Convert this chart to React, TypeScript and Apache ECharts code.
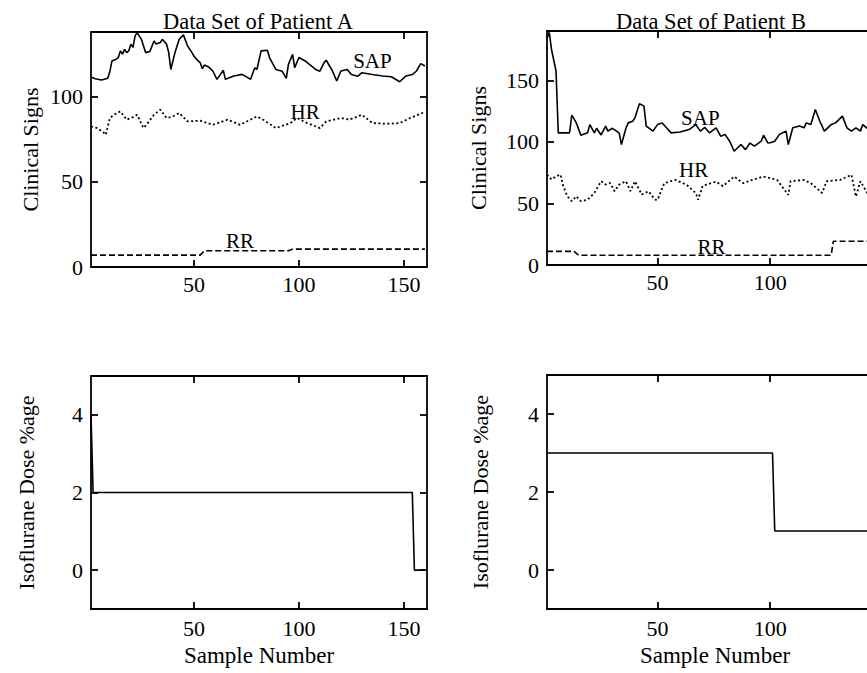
import React, { useEffect, useRef } from "react";
import * as echarts from "echarts";

// ---- tick values ----
const sampleTicks = [50, 100, 150];
const sampleLabelsA = [50, 100, 150];
const sampleLabelsB = [50, 100]; // 150 lies beyond the visible page for patient B
const signTicksA = [0, 50, 100];
const signTicksB = [0, 50, 100, 150];
const doseTicks = [0, 2, 4];

// ---- Patient A clinical signs [sample, value] ----
const sapA = [
  [1, 111.6], [3, 110.5], [6, 109.8], [9, 110.8], [10, 115], [11, 121], [13, 122], [14, 123],
  [15, 126.9], [16, 125], [17, 127.8], [18, 125.9], [19, 127], [20, 130.8], [21, 129], [22, 135.7],
  [23, 137.6], [25, 133.7], [27, 125.9], [29, 126.5], [31, 132.7], [32, 131], [34, 131.8], [35, 133.7],
  [37, 130.8], [38, 126], [39, 116], [41, 125.9], [43, 133.7], [45, 136.3], [47, 129.8], [49, 126],
  [50, 123.9], [52, 121], [53, 120], [54, 116.5], [55, 118.6], [57, 117.5], [59, 115.1], [61, 110.2],
  [64, 115.5], [65, 110.2], [69, 112.2], [73, 113.1], [77, 110.2], [79, 117], [80, 116], [82, 126.9],
  [85, 127.3], [86, 123], [89, 116], [92, 115], [94, 110.8], [95, 119], [97, 124.9], [98, 117],
  [100, 123], [103, 121], [105, 119], [108, 116], [110, 115], [112, 120], [113, 121.4], [116, 115.1],
  [118, 109.2], [120, 115.1], [123, 116], [125, 113.1], [128, 112], [130, 114.1], [135, 113],
  [140, 112.2], [144, 111.7], [148, 108.8], [151, 112.2], [154, 113], [156, 115.1], [158, 119.4], [160, 118],
];
const hrA = [
  [1, 82.5], [4, 81.6], [7, 79], [8, 77.6], [10, 87.5], [12, 89.4], [15, 91.4], [18, 86.5], [21, 88],
  [23, 89.4], [26, 81.6], [28, 84.5], [31, 89.4], [34, 92.4], [37, 87.5], [40, 88.4], [43, 90.4],
  [47, 85.5], [53, 85.9], [59, 83.5], [66, 86.5], [72, 83.5], [80, 88.4], [83, 86.5], [89, 81.6],
  [96, 84.5], [99, 87.5], [104, 84.5], [110, 81.6], [113, 85.5], [120, 87.5], [124, 86.5], [130, 89.4],
  [135, 84.5], [142, 84.1], [148, 84.5], [153, 87.5], [160, 91],
];
const rrA = [[1, 7], [53, 7], [55, 9.5], [95, 9.5], [97, 10.5], [160, 10.5]];

// ---- Patient B clinical signs ----
const sapB = [
  [1, 184], [2, 189], [3, 175], [5, 157.5], [6, 107.3], [11, 107.3], [12, 121.7], [14, 115.4],
  [16, 105.4], [19, 107.3], [20, 114], [22, 107.3], [23, 111], [25, 105.6], [27, 112.8], [28, 108.7],
  [30, 111], [33, 107.3], [34, 97.8], [36, 111], [37, 115.4], [39, 116.7], [40, 119.5], [42, 130.9],
  [44, 129], [45, 112.8], [48, 108.7], [50, 114], [52, 115.4], [54, 111.4], [56, 107.3], [60, 108],
  [64, 110], [67, 114], [69, 108.7], [71, 111.7], [73, 107.3], [76, 111.4], [78, 104.6], [80, 105.9],
  [82, 100.5], [84, 92.4], [87, 97.8], [89, 93.7], [91, 99], [93, 96.5], [96, 100.5], [97, 105.4],
  [99, 99], [100, 99.2], [102, 100.5], [104, 105.9], [107, 108.7], [108, 97.8], [110, 111.4],
  [113, 112.8], [115, 111.4], [116, 115.4], [118, 114], [120, 126.3], [122, 116.7], [124, 108.7],
  [127, 114], [129, 115.4], [132, 120.9], [134, 111.4], [136, 108.7], [138, 111.4], [140, 108.7],
  [141, 114], [143, 111], [150, 111],
];
const hrB = [
  [1, 73.4], [3, 69.4], [5, 72], [7, 73.4], [8, 65.3], [10, 55.8], [12, 51.8], [14, 55.8], [16, 51.8],
  [19, 53], [22, 58.5], [25, 68], [27, 65.3], [29, 66.6], [31, 59.9], [33, 65.3], [36, 68], [38, 59.9],
  [40, 68], [43, 57.2], [46, 59.9], [49, 53], [50, 52.8], [53, 66.4], [58, 69.1], [63, 65], [67, 58.3],
  [68, 53], [70, 64.3], [76, 67.7], [79, 64], [84, 71.8], [88, 66.4], [92, 69.1], [97, 71.8],
  [103, 69.1], [108, 56.9], [109, 68], [115, 69.1], [118, 66.4], [123, 58.5], [125, 68], [131, 69.1],
  [136, 73.2], [138, 55.6], [140, 68], [143, 58.5], [150, 66],
];
const rrB = [[1, 11.1], [13, 11.1], [15, 7.9], [127, 7.9], [128, 19.3], [150, 19.3]];

// ---- Isoflurane dose ----
const doseA = [[1, 4], [2, 2], [154, 2], [155, 0], [160, 0]];
const doseB = [[1, 3], [101, 3], [102, 1], [150, 1]];

// ---- labels ----
const titles = ["Data Set of Patient A", "Data Set of Patient B"];
const labelsA = [
  { name: "SAP", value: [135, 121] },
  { name: "HR", value: [103, 91] },
  { name: "RR", value: [72, 15] },
];
const labelsB = [
  { name: "SAP", value: [69, 119] },
  { name: "HR", value: [66, 77] },
  { name: "RR", value: [74, 15] },
];

const FONT = '"Liberation Serif", "Times New Roman", serif';

export default function App() {
  const ref = useRef<HTMLDivElement>(null);
  useEffect(() => {
    if (!ref.current) return;
    const chart = echarts.init(ref.current, null, { renderer: "svg" });
    const frame = { color: "#000", width: 1.8 };
    const txt = { color: "#000", fontFamily: FONT, fontSize: 22 };

    const base = { outerBoundsMode: "none", containLabel: false };
    const grids = [
      { ...base, left: 91, top: 32, width: 336, height: 235 },
      { ...base, left: 547, top: 31, width: 336, height: 234 },
      { ...base, left: 91, top: 376, width: 336, height: 233 },
      { ...base, left: 547, top: 375, width: 336, height: 234 },
    ];
    const xRange = [[1, 161], [1, 150], [1, 161], [1, 150]];
    const yRange = [[0, 138], [0, 190], [-1, 5], [-1, 5]];
    const xLabels = [sampleLabelsA, sampleLabelsB, sampleLabelsA, sampleLabelsB];
    const yTicks = [signTicksA, signTicksB, doseTicks, doseTicks];
    const yNames = ["Clinical Signs", "Clinical Signs", "Isoflurane Dose %age", "Isoflurane Dose %age"];
    const yNameGap = [50, 58, 54, 56];
    const xLabelMargin = [6, 6, 8, 8];

    const xAxis: any[] = [];
    const yAxis: any[] = [];
    grids.forEach((_, g) => {
      const tickX = { show: true, inside: true, length: 7, lineStyle: frame, customValues: sampleTicks };
      xAxis.push({
        type: "value", gridIndex: g, position: "bottom", min: xRange[g][0], max: xRange[g][1],
        axisLine: { show: true, onZero: false, lineStyle: frame },
        axisTick: tickX,
        axisLabel: { show: true, customValues: xLabels[g], margin: xLabelMargin[g], ...txt },
        splitLine: { show: false },
        name: g >= 2 ? "Sample Number" : "", nameLocation: "middle", nameGap: 35,
        nameTextStyle: { ...txt, fontSize: 23 },
      });
      xAxis.push({
        type: "value", gridIndex: g, position: "top", min: xRange[g][0], max: xRange[g][1],
        axisLine: { show: true, onZero: false, lineStyle: frame },
        axisTick: tickX, axisLabel: { show: false }, splitLine: { show: false },
      });
      const tickY = { show: true, inside: true, length: 7, lineStyle: frame, customValues: yTicks[g] };
      yAxis.push({
        type: "value", gridIndex: g, position: "left", min: yRange[g][0], max: yRange[g][1],
        axisLine: { show: true, onZero: false, lineStyle: frame },
        axisTick: tickY,
        axisLabel: { show: true, customValues: yTicks[g], margin: 8, ...txt },
        splitLine: { show: false },
        name: yNames[g], nameLocation: "middle", nameGap: yNameGap[g],
        nameTextStyle: { ...txt, fontSize: 22 },
      });
      yAxis.push({
        type: "value", gridIndex: g, position: "right", min: yRange[g][0], max: yRange[g][1],
        axisLine: { show: true, onZero: false, lineStyle: frame },
        axisTick: tickY, axisLabel: { show: false }, splitLine: { show: false },
      });
    });

    const line = (g: number, data: number[][], type: any, width = 1.6) => ({
      type: "line", xAxisIndex: 2 * g, yAxisIndex: 2 * g, data, showSymbol: false, symbol: "none",
      lineStyle: { color: "#000", width, type }, silent: true,
    });
    const labels = (g: number, data: any[]) => ({
      type: "scatter", xAxisIndex: 2 * g, yAxisIndex: 2 * g, data, symbolSize: 1,
      itemStyle: { color: "rgba(255,255,255,0)", opacity: 1 }, silent: true,
      label: {
        show: true, position: "inside", formatter: "{b}", ...txt, fontSize: 21,
        textBorderWidth: 0, textBorderColor: "transparent", opacity: 1,
      },
    });

    chart.setOption({
      animation: false,
      backgroundColor: "#fff",
      grid: grids,
      xAxis,
      yAxis,
      graphic: [
        { type: "text", x: 258, y: 21, style: { text: titles[0], fill: "#000", fontFamily: FONT, fontSize: 22.5, align: "center", verticalAlign: "middle" } },
        { type: "text", x: 711, y: 21, style: { text: titles[1], fill: "#000", fontFamily: FONT, fontSize: 22.5, align: "center", verticalAlign: "middle" } },
      ],
      series: [
        line(0, sapA, "solid"),
        line(0, hrA, [2, 2.5], 1.8),
        line(0, rrA, [6, 3]),
        labels(0, labelsA),
        line(1, sapB, "solid"),
        line(1, hrB, [2, 2.5], 1.8),
        line(1, rrB, [6, 3]),
        labels(1, labelsB),
        line(2, doseA, "solid"),
        line(3, doseB, "solid"),
      ],
    });
    return () => chart.dispose();
  }, []);
  return (
    <div
      ref={ref}
      style={{ position: "fixed", left: 0, top: 0, width: 867, height: 673, background: "#fff" }}
    />
  );
}
